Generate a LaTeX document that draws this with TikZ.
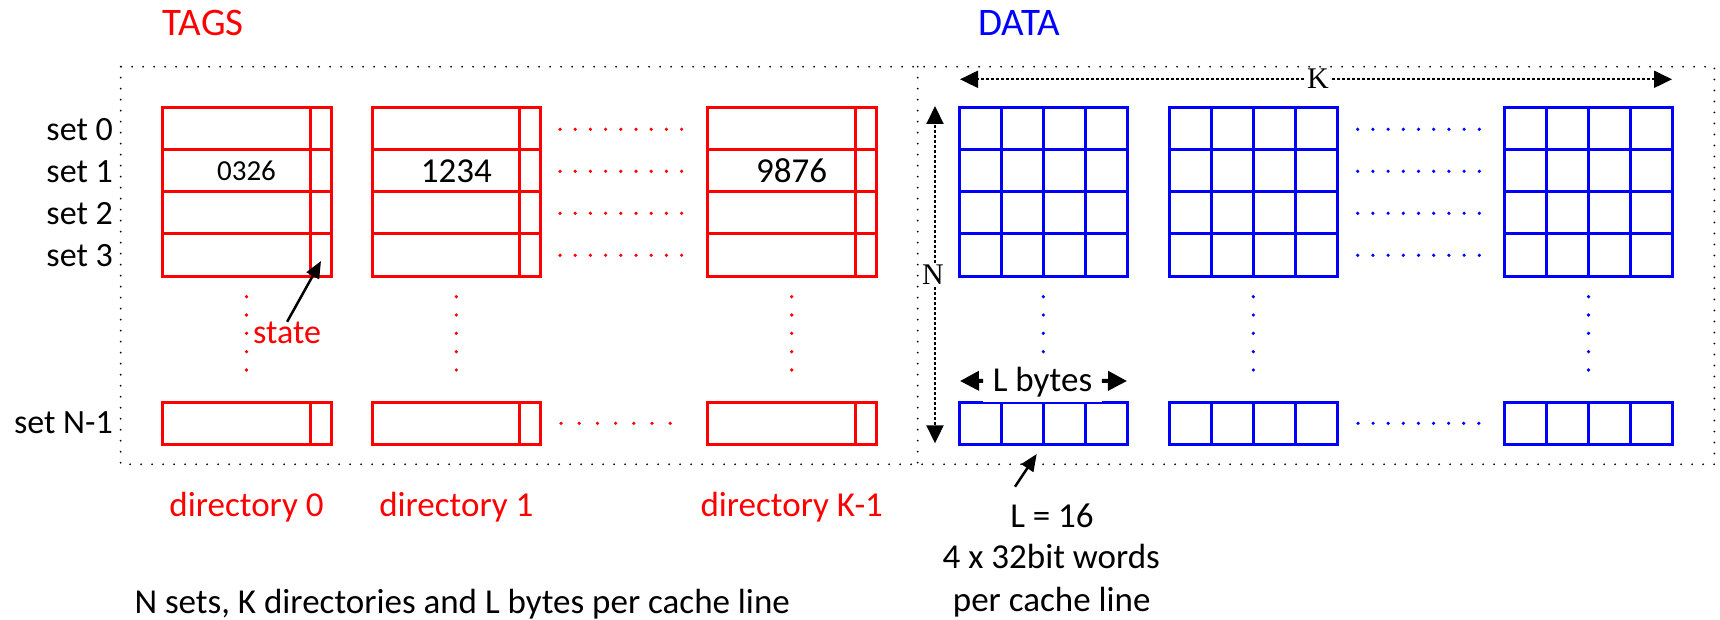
\documentclass[tikz,border=0pt]{standalone}
\usepackage{fontspec}
\setmainfont{Carlito}
\newfontfamily\dimfont{Liberation Serif}
\usetikzlibrary{arrows.meta}
\definecolor{tagred}{RGB}{255,0,0}
\definecolor{datablue}{RGB}{0,0,255}

\begin{document}
\begin{tikzpicture}[x=1pt,y=-1pt,
  tagline/.style={draw=tagred, line width=3pt},
  dataline/.style={draw=datablue, line width=3pt},
  framedots/.style={draw=black, line width=2pt, line cap=round, dash pattern=on 0pt off 11pt},
  txt/.style={inner sep=0pt, font=\fontsize{35}{42}\selectfont},
  settxt/.style={txt, font=\fontsize{34}{40}\selectfont, anchor=base east},
  dirtxt/.style={txt, text=tagred, anchor=base},
  titletxt/.style={inner sep=0pt, font=\fontsize{39}{46}\selectfont, anchor=base west},
  dimtxt/.style={inner sep=3pt, font=\dimfont\fontsize{30}{36}\selectfont},
  dimline/.style={draw=black, line width=2pt, dash pattern=on 3pt off 2pt,
    -{Triangle[length=18pt,width=17pt]}},
  pointer/.style={draw=black, line width=2.5pt, -{Triangle[length=17pt,width=14pt]}},
  sizearrow/.style={draw=black, line width=4pt, -{Triangle[length=19pt,width=19pt]}},
  cdot/.style={radius=1.8}
]
\useasboundingbox (0,0) rectangle (1720,620);

% dotted frame around tag and data arrays
\draw[framedots] (120.7,66.7) rectangle (1714.3,464.3);
\draw[framedots] (917.7,66.7) -- (917.7,464.3);

% titles
\node[titletxt, text=tagred] (tags) at (162.7,35.5) {TAGS};
\node[titletxt, text=datablue] (data) at (978,35.5) {DATA};

% tag directories: four sets plus set N-1, each with a state field
\foreach \x in {162.3,372,707.7} {
  \draw[tagline] (\x,108) rectangle ++(168.7,168);
  \foreach \y in {150,192,234}
    \draw[tagline] (\x,\y) -- ++(168.7,0);
  \draw[tagline] (\x+147.7,108) -- ++(0,168);
  \draw[tagline] (\x,402) rectangle ++(168.7,42.3);
  \draw[tagline] (\x+147.7,402) -- ++(0,42.3);
}

% data arrays: 4 words per line
\foreach \x in {959.3,1169,1504.3} {
  \draw[dataline] (\x,108) rectangle ++(168.3,168);
  \foreach \y in {150,192,234}
    \draw[dataline] (\x,\y) -- ++(168.3,0);
  \foreach \c in {1,2,3} {
    \draw[dataline] (\x+42.1*\c,108) -- ++(0,168);
    \draw[dataline] (\x+42.1*\c,402) -- ++(0,42.3);
  }
  \draw[dataline] (\x,402) rectangle ++(168.3,42.3);
}

% horizontal ellipsis between directories
\foreach \y in {129.3,171.3,213.3,255.3} {
  \foreach \i in {0,...,8} {
    \fill[tagred] (560+15.2*\i,\y) circle[cdot];
    \fill[datablue] (1357.7+15.2*\i,\y) circle[cdot];
  }
}
\foreach \i in {0,...,6}
  \fill[tagred] (561+18.2*\i,423.3) circle[cdot];
\foreach \i in {0,...,8}
  \fill[datablue] (1358+15.1*\i,423.3) circle[cdot];

% vertical ellipsis between set 3 and set N-1
\foreach \x in {246.5,456.3,791.7} {
  \foreach \y in {296.7,315,333.3,351.7,370}
    \fill[tagred] (\x,\y) circle[cdot];
}
\foreach \x in {1253.3,1588.5} {
  \foreach \y in {296.7,315,333.3,351.7,370}
    \fill[datablue] (\x,\y) circle[cdot];
}
\foreach \y in {296.7,315,333.3,351.7}
  \fill[datablue] (1043.3,\y) circle[cdot];

% set labels
\foreach \i/\y in {0/129.3,1/171.3,2/213.3,3/255.3}
  \node[settxt] (set\i) at (113,\y+11) {set \i};
\node[settxt] (setN) at (113,433.5) {set N-1};

% stored tags
\node[txt, anchor=base, font=\fontsize{29}{34}\selectfont] (tag0) at (246.5,180.8) {0326};
\node[txt, anchor=base] (tag1) at (456.3,182.8) {1234};
\node[txt, anchor=base] (tagK) at (791.7,182.8) {9876};

% state field callout
\node[txt, text=tagred, anchor=base west, font=\fontsize{34}{40}\selectfont] (state) at (253,343.5) {state};
\coordinate (statetip) at (321,261);
\draw[pointer] (state.north) -- (statetip);

% directory labels
\node[dirtxt] (dir0) at (246.5,516.7) {directory 0};
\node[dirtxt] (dir1) at (456.3,516.7) {directory 1};
\node[dirtxt] (dirK) at (791.7,516.7) {directory K-1};

% K dimension
\node[dimtxt] (klbl) at (1318,78.5) {K};
\coordinate (kleft) at (960,79.3);
\coordinate (kright) at (1672,79.3);
\draw[dimline] (klbl.west |- kleft) -- (kleft);
\draw[dimline] (klbl.east |- kright) -- (kright);

% N dimension
\node[dimtxt, inner sep=2pt] (nlbl) at (933,275) {N};
\coordinate (ntop) at (935,106);
\coordinate (nbot) at (935,443.3);
\draw[dimline] (nlbl.north -| ntop) -- (ntop);
\draw[dimline] (nlbl.south -| nbot) -- (nbot);

% line size label
\node[txt, fill=white, anchor=south, text height=32pt, text depth=10.6pt,
  minimum width=118.4pt] (lbytes) at (1042.5,402.3) {L bytes};
\coordinate (lbl) at (960,381);
\coordinate (lbr) at (1127,381);
\draw[sizearrow] (lbytes.west) -- (lbl);
\draw[sizearrow] (lbytes.east) -- (lbr);

% line size note
\node[txt, anchor=base] (lnote1) at (1052,527.7) {L = 16};
\node[txt, anchor=base] (lnote2) at (1051.3,568.3) {4 x 32bit words};
\node[txt, anchor=base] (lnote3) at (1051.7,611.7) {per cache line};
\coordinate (ltail) at (1015,486.7);
\coordinate (ltip) at (1036.7,454);
\draw[pointer] (ltail) -- (ltip);

% caption
\node[txt, anchor=base west] (caption) at (134.3,613.3) {N sets, K directories and L bytes per cache line};
\end{tikzpicture}
\end{document}
